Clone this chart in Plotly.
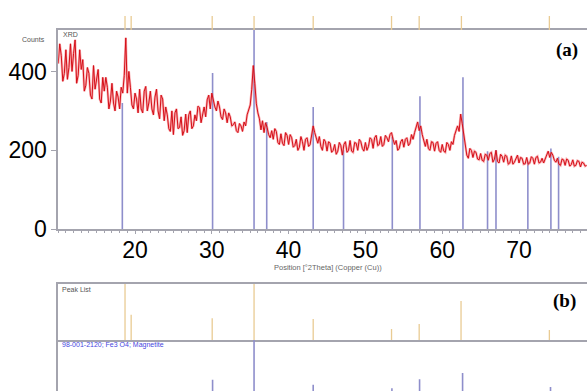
import plotly.graph_objects as go

# ---------------- data ----------------
scan_start = 10.0
scan_step = 0.2
counts = [
    420, 470, 440, 375, 395,  455, 380, 410, 470, 400,  445, 480, 370, 390, 455,
    405, 430, 350, 365, 410,  395, 340, 330, 415, 355,  375, 405, 330, 320, 385,
    350, 385, 360, 305, 325,  370, 320, 300, 350, 335,  305, 360, 345, 390, 485,
    345, 400, 360, 315, 305,  345, 330, 295, 355, 305,  295, 350, 362, 300, 320,
    350, 305, 290, 335, 355,  300, 280, 340, 330, 275,  310, 290, 255, 248, 300,
    240, 295, 305, 255, 258,  285, 238, 250, 292, 245,  290, 300, 255, 262, 290,
    275, 312, 308, 270, 295,  310, 285, 328, 340, 305,  345, 322, 310, 300, 325,
    310, 285, 278, 305, 295,  270, 295, 285, 262, 265,  272, 250, 245, 268, 262,
    248, 272, 262, 290, 300,  315, 355, 415, 370, 318,  295, 280, 252, 275, 245,
    270, 258, 240, 232, 250,  228, 255, 248, 220, 215,  242, 218, 212, 245, 238,
    215, 240, 232, 208, 212,  228, 200, 208, 235, 222,  200, 228, 232, 210, 215,
    240, 262, 245, 228, 218,  235, 210, 200, 228, 222,  198, 222, 218, 195, 200,
    215, 190, 198, 220, 212,  188, 215, 222, 195, 200,  225, 198, 195, 220, 218,
    200, 228, 222, 205, 198,  220, 200, 210, 232, 228,  205, 232, 238, 212, 215,
    235, 210, 215, 238, 232,  222, 240, 245, 228, 215,  225, 200, 205, 222, 228,
    208, 228, 232, 212, 218,  240, 228, 245, 262, 272,  250, 262, 240, 225, 210,
    228, 205, 200, 222, 220,  198, 218, 222, 200, 195,  215, 198, 195, 220, 215,
    200, 222, 215, 238, 248,  262, 248, 292, 268, 240,  212, 188, 180, 205, 200,
    182, 198, 195, 178, 176,  192, 175, 172, 190, 188,  175, 192, 195, 170, 178,
    200, 172, 168, 190, 185,  170, 188, 185, 165, 168,  186, 165, 170, 182, 188,
    168, 182, 180, 165, 166,  182, 165, 168, 184, 180,  165, 182, 185, 168, 170,
    180, 168, 178, 186, 198,  182, 195, 188, 175, 170,  180, 165, 162, 178, 176,
    162, 178, 175, 160, 164,  176, 160, 162, 174, 172,  158, 170, 168, 160, 162,
]
angles = [round(scan_start + scan_step * i, 2) for i in range(len(counts))]

# reference stick pattern drawn in panel (a)
ref_pos_a = [18.35, 30.1, 35.5, 37.15, 43.2, 47.15, 53.5, 57.1, 62.7, 65.9, 67.0, 71.15, 74.15, 75.15]
ref_hgt_a = [320, 396, 505, 272, 310, 200, 234, 337, 385, 198, 201, 171, 205, 184]

# peak list markers (tan)
peak_pos_top = [18.7, 19.5, 30.05, 35.5, 43.2, 53.4, 57.0, 62.5, 73.95]
peak_pos = [18.7, 19.5, 30.05, 35.5, 43.2, 53.4, 57.0, 62.45, 73.95]
peak_hgt = [100, 45, 39, 100, 37.5, 19.6, 28.6, 69.6, 17.9]

# Magnetite reference (98-001-2120), relative intensity %
mag_pos = [18.35, 30.1, 35.5, 37.15, 43.2, 47.15, 53.45, 57.05, 62.65, 65.9, 67.0, 71.15, 74.1, 75.15]
mag_int = [8, 29, 100, 8, 20, 1, 14, 30, 41, 1, 3, 2, 16, 5]

x_tick_vals = [20, 30, 40, 50, 60, 70]
y_tick_vals = [0, 200, 400]

# ---------------- figure ----------------
W, H = 587, 391
def py(p):
    return 1 - p / H

def sticks(pos, hgt, base=0):
    xs, ys = [], []
    for p, h in zip(pos, hgt):
        xs += [p, p, None]
        ys += [base, h, None]
    return xs, ys

BLUE = '#8e8ecb'
TAN = '#e9cb93'
GRAY = '#a4a4ae'
XR = [10, 78.85]
xdom = [58.2 / W, 1]

fig = go.Figure()

xs, ys = sticks(ref_pos_a, ref_hgt_a)
fig.add_trace(go.Scatter(x=xs, y=ys, mode='lines', line=dict(color=BLUE, width=1.6),
                         xaxis='x', yaxis='y', hoverinfo='skip'))
fig.add_trace(go.Scatter(x=angles, y=counts, mode='lines',
                         line=dict(color='rgba(245,100,105,0.5)', width=2.4),
                         xaxis='x', yaxis='y', hoverinfo='skip'))
fig.add_trace(go.Scatter(x=angles, y=counts, mode='lines',
                         line=dict(color='#d40f18', width=1.0), xaxis='x', yaxis='y'))

xs, ys = sticks(peak_pos_top, [1] * len(peak_pos_top))
fig.add_trace(go.Scatter(x=xs, y=ys, mode='lines', line=dict(color=TAN, width=1.3),
                         xaxis='x2', yaxis='y2', hoverinfo='skip'))
fig.add_trace(go.Scatter(x=[19.5], y=[1.05], mode='markers',
                         marker=dict(symbol='triangle-down', size=4, color='#707070'),
                         xaxis='x2', yaxis='y2', cliponaxis=False))

xs, ys = sticks(peak_pos, peak_hgt)
fig.add_trace(go.Scatter(x=xs, y=ys, mode='lines', line=dict(color=TAN, width=1.3),
                         xaxis='x3', yaxis='y3', hoverinfo='skip'))

xs, ys = sticks(mag_pos, mag_int)
fig.add_trace(go.Scatter(x=xs, y=ys, mode='lines', line=dict(color=BLUE, width=1.6),
                         xaxis='x4', yaxis='y4', hoverinfo='skip'))

big = dict(family='Liberation Sans, Arial', size=23, color='black')

fig.update_layout(
    template='none',
    width=W, height=H, margin=dict(l=0, r=0, t=0, b=0, pad=0, autoexpand=False),
    paper_bgcolor='white', plot_bgcolor='white', showlegend=False,
    xaxis=dict(domain=xdom, anchor='y', range=XR, tickmode='array', tickvals=x_tick_vals,
               showline=True, linecolor=GRAY, linewidth=1.5, mirror=True,
               ticks='outside', ticklen=3, tickcolor=GRAY, tickfont=big, showgrid=False,
               zeroline=False, automargin=False, ticklabelstandoff=-4,
               minor=dict(dtick=1, tick0=10, ticks='outside', ticklen=2, tickcolor=GRAY)),
    yaxis=dict(domain=[py(229.3), py(30)], anchor='x', range=[0, 505], tickmode='array',
               tickvals=y_tick_vals, showline=True, linecolor=GRAY, linewidth=1.5,
               ticks='outside', ticklen=5, tickcolor=GRAY, tickfont=big, showgrid=False,
               zeroline=False, automargin=False),
    xaxis2=dict(domain=xdom, anchor='y2', range=XR, visible=False, automargin=False),
    yaxis2=dict(domain=[py(30), py(16)], anchor='x2', range=[0, 1], visible=False,
                automargin=False),
    xaxis3=dict(domain=xdom, anchor='y3', range=XR, showline=True, mirror=True,
                linecolor=GRAY, linewidth=1.5, showticklabels=False, ticks='',
                showgrid=False, zeroline=False, automargin=False),
    yaxis3=dict(domain=[py(340), py(284)], anchor='x3', range=[0, 100], showline=True,
                linecolor=GRAY, linewidth=1.5, showticklabels=False, ticks='',
                showgrid=False, zeroline=False, automargin=False),
    xaxis4=dict(domain=xdom, anchor='y4', range=XR, showline=False, showticklabels=False,
                ticks='', showgrid=False, zeroline=False, automargin=False),
    yaxis4=dict(domain=[0, py(340)], anchor='x4', range=[9, 100], showline=True,
                linecolor=GRAY, linewidth=1.5, showticklabels=False, ticks='',
                showgrid=False, zeroline=False, automargin=False),
)

small = dict(family='Liberation Sans, Arial', size=7, color='#555555')
ann = [
    dict(x=20 / W, y=py(40), text='Counts', font=small, xanchor='left', yanchor='middle'),
    dict(x=61 / W, y=py(35), text='XRD', font=small, xanchor='left', yanchor='middle'),
    dict(x=328 / W, y=py(267), text='Position [°2Theta] (Copper (Cu))',
         font=dict(family='Liberation Sans, Arial', size=7.5, color='#666666'),
         xanchor='center', yanchor='middle'),
    dict(x=60 / W, y=py(289), text='Peak List', font=small, xanchor='left', yanchor='middle'),
    dict(x=60 / W, y=py(345), text='98-001-2120; Fe3 O4; Magnetite',
         font=dict(family='Liberation Sans, Arial', size=7, color='#4646e0'),
         xanchor='left', yanchor='middle'),
    dict(x=580 / W, y=py(50), text='<b>(a)</b>',
         font=dict(family='Liberation Serif, Times New Roman', size=19, color='black'),
         xanchor='right', yanchor='middle'),
    dict(x=578 / W, y=py(301), text='<b>(b)</b>',
         font=dict(family='Liberation Serif, Times New Roman', size=19, color='black'),
         xanchor='right', yanchor='middle'),
]
for a in ann:
    a.update(xref='paper', yref='paper', showarrow=False)
fig.update_layout(annotations=ann)

fig.write_html('out.html')
